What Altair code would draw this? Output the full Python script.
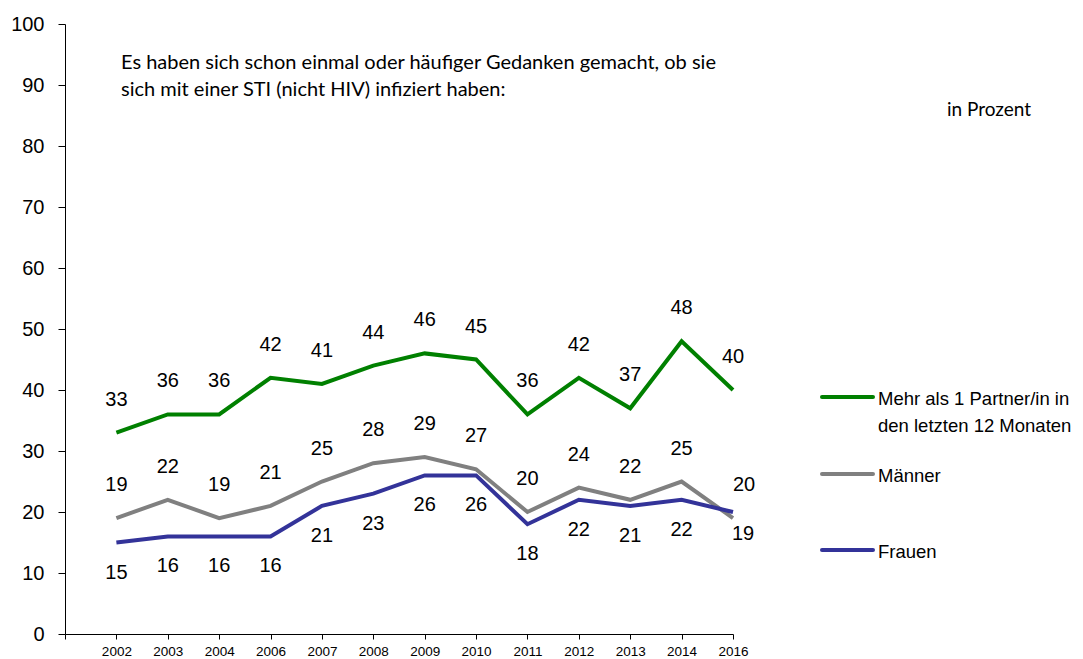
import altair as alt
import pandas as pd

years = ["2002", "2003", "2004", "2006", "2007", "2008", "2009", "2010",
         "2011", "2012", "2013", "2014", "2016"]
series_names = ["Mehr als 1 Partner/in in den letzten 12 Monaten", "Männer", "Frauen"]
partner_vals = [33, 36, 36, 42, 41, 44, 46, 45, 36, 42, 37, 48, 40]
maenner_vals = [19, 22, 19, 21, 25, 28, 29, 27, 20, 24, 22, 25, 19]
frauen_vals = [15, 16, 16, 16, 21, 23, 26, 26, 18, 22, 21, 22, 20]
colors = ["#008000", "#808080", "#333399"]
legend_lines = [["Mehr als 1 Partner/in in", "den letzten 12 Monaten"], ["Männer"], ["Frauen"]]
title_lines = ["Es haben sich schon einmal oder häufiger Gedanken gemacht, ob sie",
               "sich mit einer STI (nicht HIV) infiziert haben:"]
unit_text = "in Prozent"

# label placement: default side per series, with exceptions
default_side = ["above", "above", "below"]
side_exceptions = {(1, "2016"): "right_below", (2, "2016"): "right_above"}
side_offsets = {"above": (0, -33), "below": (0, 30),
                "right_below": (10, 16), "right_above": (11, -27)}

all_vals = [partner_vals, maenner_vals, frauen_vals]
rows = []
for s, vals in enumerate(all_vals):
    for i, (y, v) in enumerate(zip(years, vals)):
        rows.append({"series": series_names[s], "sidx": s, "year": y, "idx": i,
                     "value": v,
                     "side": side_exceptions.get((s, y), default_side[s])})
df = pd.DataFrame(rows)

FONT = "Liberation Sans"
label_arr = "[" + ",".join(f"'{y}'" for y in years) + "]"

x_enc = alt.X("idx:Q",
              scale=alt.Scale(domain=[-1, len(years) - 1], nice=False, zero=False),
              axis=alt.Axis(values=list(range(-1, len(years))),
                            labelExpr=f"datum.value < 0 ? '' : {label_arr}[datum.value]",
                            title=None, grid=False, tickSize=5, labelPadding=5,
                            labelFontSize=13.5, labelFont=FONT, labelColor="black",
                            domainColor="black", tickColor="black", labelFlush=False,
                            labelOverlap=False))
y_enc = alt.Y("value:Q",
              scale=alt.Scale(domain=[0, 100], nice=False),
              axis=alt.Axis(values=list(range(0, 101, 10)), title=None, grid=False,
                            tickSize=7, labelPadding=14, labelFontSize=20,
                            labelFont=FONT, labelColor="black",
                            domainColor="black", tickColor="black"))

base = alt.Chart(df)
layers = []
for s in range(len(series_names)):
    layers.append(
        base.transform_filter(alt.datum.sidx == s)
        .mark_line(strokeWidth=4, color=colors[s])
        .encode(x=x_enc, y=y_enc)
    )
for side, (dx, dy) in side_offsets.items():
    layers.append(
        base.transform_filter(alt.datum.side == side)
        .mark_text(dx=dx, dy=dy, fontSize=20, font=FONT, color="black",
                   align="center", baseline="middle")
        .encode(x="idx:Q", y="value:Q", text="value:Q")
    )


def one_text(txt, xp, yp, font, size):
    return (alt.Chart(pd.DataFrame({"t": [txt]}))
            .mark_text(align="left", baseline="middle", font=font,
                       fontSize=size, color="black")
            .encode(x=alt.value(xp), y=alt.value(yp), text="t:N"))


# title text
for k, line in enumerate(title_lines):
    layers.append(one_text(line, 56, 39 + 27 * k, "Lato", 20))
layers.append(one_text(unit_text, 882, 86, "Lato", 19))

# legend
legend_y = [373, 450, 526]
for s in range(len(series_names)):
    layers.append(
        alt.Chart(pd.DataFrame({"series": [series_names[s]]}))
        .mark_rule(strokeWidth=4, color=colors[s], strokeCap="round")
        .encode(x=alt.value(757), x2=alt.value(808), y=alt.value(legend_y[s]))
    )
    for k, line in enumerate(legend_lines[s]):
        layers.append(one_text(line, 813, legend_y[s] + 2 + 27 * k, FONT, 18.5))

chart = alt.layer(*layers).properties(
    width=668, height=610,
    padding={"left": 57, "top": 16, "right": 342, "bottom": 25},
    autosize=alt.AutoSizeParams(type="none"),
    background="white",
).configure_view(stroke=None)

chart.save("out.html", embed_options={"renderer": "svg", "actions": False})
